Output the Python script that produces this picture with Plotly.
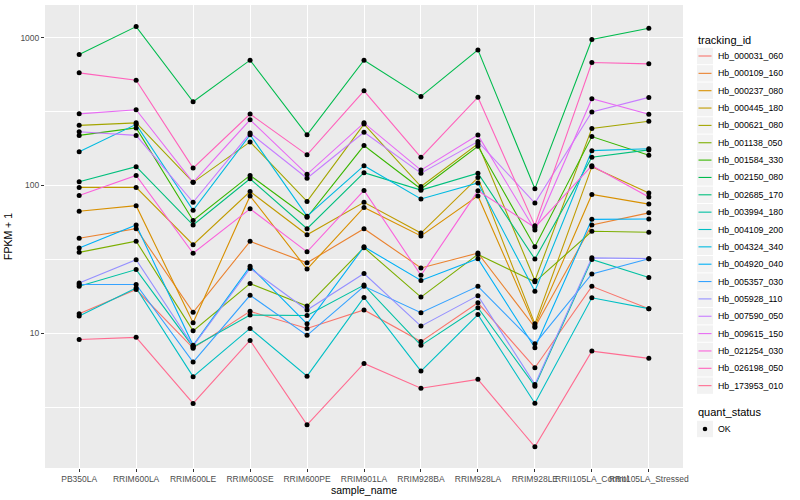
import plotly.graph_objects as go

samples = ["PB350LA", "RRIM600LA", "RRIM600LE", "RRIM600SE", "RRIM600PE", "RRIM901LA",
           "RRIM928BA", "RRIM928LA", "RRIM928LE", "RRII105LA_Control", "RRII105LA_Stressed"]

tracking_ids = ["Hb_000031_060", "Hb_000109_160", "Hb_000237_080", "Hb_000445_180",
                "Hb_000621_080", "Hb_001138_050", "Hb_001584_330", "Hb_002150_080",
                "Hb_002685_170", "Hb_003994_180", "Hb_004109_200", "Hb_004324_340",
                "Hb_004920_040", "Hb_005357_030", "Hb_005928_110", "Hb_007590_050",
                "Hb_009615_150", "Hb_021254_030", "Hb_026198_050", "Hb_173953_010"]

colors = ["#F8766D", "#EA8331", "#D89000", "#C09B00", "#A3A500", "#7CAE00", "#39B600",
          "#00BB4E", "#00BF7D", "#00C1A3", "#00BFC4", "#00BAE0", "#00B0F6", "#35A2FF",
          "#9590FF", "#C77CFF", "#E76BF3", "#FA62DB", "#FF62BC", "#FF6C91"]

# FPKM + 1 values per tracking id, in the order of `samples`
Hb_000031_060 = [13.6, 19.8, 7.95, 14.1, 10.8, 14.4, 8.8, 16.1, 5.86, 20.8, 14.7]
Hb_000109_160 = [44, 51, 13.9, 41.9, 30, 51, 27.7, 34.9, 11.0, 54, 65.3]
Hb_000237_080 = [67, 73, 11.8, 85, 27.2, 71, 45.6, 85, 11.2, 87, 74.8]
Hb_000445_180 = [97, 97, 39.8, 91, 46.4, 77, 47.7, 113, 11.6, 134, 88.8]
Hb_000621_080 = [255, 265, 105, 197, 78, 260, 98.4, 191, 22.8, 243, 272]
Hb_001138_050 = [35.3, 42, 10.4, 21.7, 15.3, 38, 17.6, 34.2, 22.3, 49, 48.3]
Hb_001584_330 = [218, 245, 58, 117, 61, 186, 94.6, 184, 38.5, 214, 160]
Hb_002150_080 = [768, 1186, 368, 703, 220, 703, 400, 825, 94.9, 970, 1155]
Hb_002685_170 = [106, 134, 54, 111, 51, 122, 93, 121, 31.8, 155, 174]
Hb_003994_180 = [20.8, 27, 8.1, 13.3, 13.2, 21.2, 8.3, 14.9, 4.4, 31.6, 23.9]
Hb_004109_200 = [13.1, 20.3, 5.1, 10.8, 5.14, 17.5, 5.56, 13.4, 3.37, 17.4, 14.7]
Hb_004324_340 = [169, 259, 68, 220, 62, 136, 81, 104, 19.3, 172, 177]
Hb_004920_040 = [37.8, 54, 8.3, 28.4, 11.6, 38.5, 22.8, 32, 8.0, 59, 59.3]
Hb_005357_030 = [21.4, 21.4, 6.4, 18.1, 9.7, 20.8, 13.8, 20.8, 8.5, 25.2, 32]
Hb_005928_110 = [21.9, 31.5, 8.2, 27.5, 14.4, 25.4, 11.2, 18, 4.52, 32.4, 32]
Hb_007590_050 = [231, 218, 77, 226, 112, 229, 121, 198, 76, 314, 394]
Hb_009615_150 = [305, 325, 105, 278, 119, 265, 127, 219, 50, 386, 303]
Hb_021254_030 = [85.5, 117, 34.8, 69.5, 35.6, 92.5, 24.7, 92, 52, 136, 83.5]
Hb_026198_050 = [577, 515, 131, 304, 161, 436, 155, 395, 53.5, 678, 664]
Hb_173953_010 = [9.1, 9.4, 3.36, 8.96, 2.41, 6.27, 4.26, 4.89, 1.71, 7.59, 6.78]

series = [Hb_000031_060, Hb_000109_160, Hb_000237_080, Hb_000445_180, Hb_000621_080,
          Hb_001138_050, Hb_001584_330, Hb_002150_080, Hb_002685_170, Hb_003994_180,
          Hb_004109_200, Hb_004324_340, Hb_004920_040, Hb_005357_030, Hb_005928_110,
          Hb_007590_050, Hb_009615_150, Hb_021254_030, Hb_026198_050, Hb_173953_010]

quant_status = ["OK"]

FONT = "Liberation Sans, Arial, sans-serif"

# layout geometry (pixels)
W, H = 800, 500
ML, MR, MT, MB = 45, 117, 5, 32
PW, PH = W - ML - MR, H - MT - MB


def px(xp):
    return (xp - ML) / PW


def py(yp):
    return (H - MB - yp) / PH


fig = go.Figure()
for tid, col, vals in zip(tracking_ids, colors, series):
    fig.add_trace(go.Scatter(
        x=samples, y=vals, mode="lines", name=tid,
        line=dict(color=col, width=1.1), showlegend=False, hoverinfo="skip",
    ))

all_x = [s for vals in series for s in samples]
all_y = [v for vals in series for v in vals]
fig.add_trace(go.Scatter(
    x=all_x, y=all_y, mode="markers", name=quant_status[0],
    marker=dict(color="black", size=5), showlegend=False,
))

# ---- ggplot-style legend built from the same names/colours ----
shapes = []
annotations = []
LEG_X0, KEY_W, ITEM_H, FIRST_Y = 697, 16, 17.35, 56
annotations.append(dict(text="tracking_id", x=px(696), y=py(40), xref="paper", yref="paper",
                        xanchor="left", yanchor="middle", showarrow=False,
                        font=dict(size=11, color="black", family=FONT)))
for i, (tid, col) in enumerate(zip(tracking_ids, colors)):
    yc = FIRST_Y + i * ITEM_H
    shapes.append(dict(type="rect", xref="paper", yref="paper",
                       x0=px(LEG_X0), x1=px(LEG_X0 + KEY_W),
                       y0=py(yc - ITEM_H / 2 + 0.5), y1=py(yc + ITEM_H / 2 - 0.5),
                       fillcolor="#F2F2F2", line=dict(width=0), layer="above"))
    shapes.append(dict(type="line", xref="paper", yref="paper",
                       x0=px(LEG_X0 + 1.5), x1=px(LEG_X0 + KEY_W - 1.5),
                       y0=py(yc), y1=py(yc), line=dict(color=col, width=1.1), layer="above"))
    annotations.append(dict(text=tid, x=px(716), y=py(yc), xref="paper", yref="paper",
                            xanchor="left", yanchor="middle", showarrow=False,
                            font=dict(size=8.8, color="black", family=FONT)))

annotations.append(dict(text="quant_status", x=px(696), y=py(412), xref="paper", yref="paper",
                        xanchor="left", yanchor="middle", showarrow=False,
                        font=dict(size=11, color="black", family=FONT)))
ok_y = 429
shapes.append(dict(type="rect", xref="paper", yref="paper",
                   x0=px(LEG_X0), x1=px(LEG_X0 + KEY_W),
                   y0=py(ok_y - ITEM_H / 2 + 0.5), y1=py(ok_y + ITEM_H / 2 - 0.5),
                   fillcolor="#F2F2F2", line=dict(width=0), layer="above"))
shapes.append(dict(type="circle", xref="paper", yref="paper",
                   x0=px(LEG_X0 + KEY_W / 2 - 2.3), x1=px(LEG_X0 + KEY_W / 2 + 2.3),
                   y0=py(ok_y - 2.3), y1=py(ok_y + 2.3),
                   fillcolor="black", line=dict(width=0), layer="above"))
annotations.append(dict(text=quant_status[0], x=px(716), y=py(ok_y), xref="paper", yref="paper",
                        xanchor="left", yanchor="middle", showarrow=False,
                        font=dict(size=8.8, color="black", family=FONT)))

fig.update_layout(
    width=W, height=H,
    margin=dict(l=ML, r=MR, t=MT, b=MB, autoexpand=False),
    plot_bgcolor="#EBEBEB", paper_bgcolor="white",
    font=dict(family=FONT, size=9, color="black"),
    showlegend=False,
    shapes=shapes, annotations=annotations,
)
fig.update_xaxes(
    type="category", range=[-0.6, 10.6], tickangle=0, automargin=False,
    showgrid=True, gridcolor="white", gridwidth=1.1, zeroline=False,
    ticks="outside", ticklen=3, tickcolor="#333333",
    tickfont=dict(size=8.5, color="#4D4D4D", family=FONT),
    title=dict(text="sample_name", font=dict(size=10.5, color="black"), standoff=3),
    showline=False,
)
fig.update_yaxes(
    type="log", range=[0.09, 3.22], automargin=False,
    tickmode="array", tickvals=[10, 100, 1000], ticktext=["10", "100", "1000"],
    showgrid=True, gridcolor="white", gridwidth=1.1, zeroline=False,
    ticks="outside", ticklen=3, tickcolor="#333333",
    tickfont=dict(size=8.5, color="#4D4D4D", family=FONT),
    minor=dict(tickmode="array", tickvals=[10 ** 0.5, 10 ** 1.5, 10 ** 2.5],
               showgrid=True, gridcolor="white", gridwidth=0.55, ticks=""),
    title=dict(text="FPKM + 1", font=dict(size=10.5, color="black"), standoff=5),
    showline=False,
)

fig.write_html("out.html", config={"displayModeBar": False},
               post_script="document.body.style.margin='0px';document.body.style.overflow='hidden';")
